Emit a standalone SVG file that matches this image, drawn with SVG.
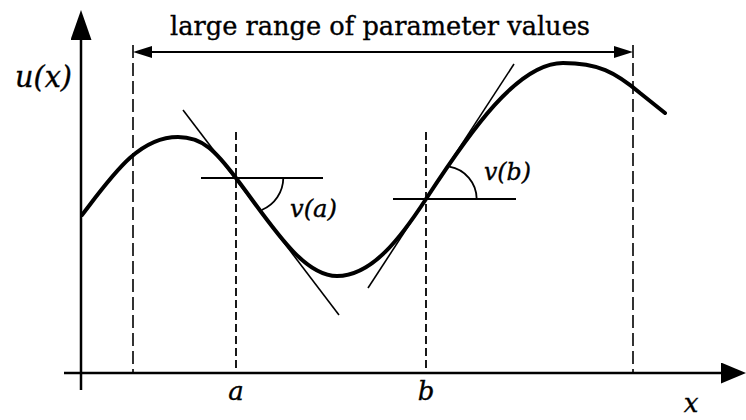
<svg xmlns="http://www.w3.org/2000/svg" width="746" height="420" viewBox="0 0 746 420">
<style>
.axis{stroke:#000;stroke-width:2.5;fill:none}
.dimline{stroke:#000;stroke-width:2;fill:none}
.dash-outer{stroke:#000;stroke-width:1.6;stroke-dasharray:13 5;fill:none}
.dash-inner{stroke:#000;stroke-width:1.8;stroke-dasharray:8 4;fill:none}
.curve{stroke:#000;stroke-width:4;fill:none;stroke-linecap:round}
.tangent{stroke:#000;stroke-width:1.6;fill:none}
.hline{stroke:#000;stroke-width:2;fill:none}
.arc{stroke:#000;stroke-width:1.8;fill:none}
.lbl{font-family:"DejaVu Serif","Liberation Serif",serif;fill:#000;stroke:#000;stroke-width:0.35}
.it{font-style:italic}
</style>
<defs>
<marker id="axisHeadY" markerUnits="userSpaceOnUse" viewBox="0 0 30 21" refX="0" refY="10.5" markerWidth="30" markerHeight="21" orient="auto"><path d="M0,0 L30,10.5 L0,21 z" fill="#000"/></marker>
<marker id="axisHeadX" markerUnits="userSpaceOnUse" viewBox="0 0 25 21" refX="0" refY="10.5" markerWidth="25" markerHeight="21" orient="auto"><path d="M0,0 L25,10.5 L0,21 z" fill="#000"/></marker>
<marker id="dimHead" markerUnits="userSpaceOnUse" viewBox="0 0 19 12" refX="0" refY="6" markerWidth="19" markerHeight="12" orient="auto-start-reverse"><path d="M0,0 L19,6 L0,12 z" fill="#000"/></marker>
</defs>

<g id="axes">
<line id="y-axis" class="axis" x1="81" y1="390" x2="81" y2="40" marker-end="url(#axisHeadY)"/>
<line id="x-axis" class="axis" x1="64" y1="373" x2="721" y2="373" marker-end="url(#axisHeadX)"/>
</g>

<g id="connectors">
<line class="dash-outer" x1="133" y1="45" x2="133" y2="373"/>
<line class="dash-outer" x1="633" y1="45" x2="633" y2="373"/>
<line class="dash-inner" x1="236" y1="132" x2="236" y2="373"/>
<line class="dash-inner" x1="426" y1="132" x2="426" y2="373"/>
<line class="dimline" x1="152" y1="52" x2="614" y2="52" marker-start="url(#dimHead)" marker-end="url(#dimHead)"/>
<line class="tangent" x1="183" y1="110" x2="339" y2="315"/>
<line class="tangent" x1="368" y1="288" x2="514" y2="64"/>
<line class="hline" x1="201" y1="178" x2="323" y2="178"/>
<line class="hline" x1="393" y1="199" x2="516" y2="199"/>
<path class="arc" d="M283.3,178 A35 35 0 0 1 261.7,210"/>
<path class="arc" d="M449.3,166.7 A33 33 0 0 1 476.7,199"/>
</g>

<g id="curve-u">
<path class="curve" d="M82,215 C112,176 138,137 178,137 C203,137 216,151.7 236,178 C271,224 302,276 337,276 C372,276 401,237.4 426,199 C471,130 518,63 563,63 C598,63 615,72 640,93 L665,113"/>
</g>

<g id="labels">
<text class="lbl" x="380" y="35" font-size="25.6" text-anchor="middle" textLength="420" lengthAdjust="spacingAndGlyphs">large range of parameter values</text>
<text class="lbl it" x="15" y="87" font-size="29" textLength="57" lengthAdjust="spacingAndGlyphs">u(x)</text>
<text class="lbl it" x="290" y="216.5" font-size="24" textLength="47" lengthAdjust="spacingAndGlyphs">v(a)</text>
<text class="lbl it" x="484" y="179.5" font-size="24" textLength="47" lengthAdjust="spacingAndGlyphs">v(b)</text>
<text class="lbl it" x="236" y="400" font-size="26" text-anchor="middle">a</text>
<text class="lbl it" x="426" y="400" font-size="26" text-anchor="middle">b</text>
<text class="lbl it" x="691" y="412" font-size="26" text-anchor="middle">x</text>
</g>
</svg>
